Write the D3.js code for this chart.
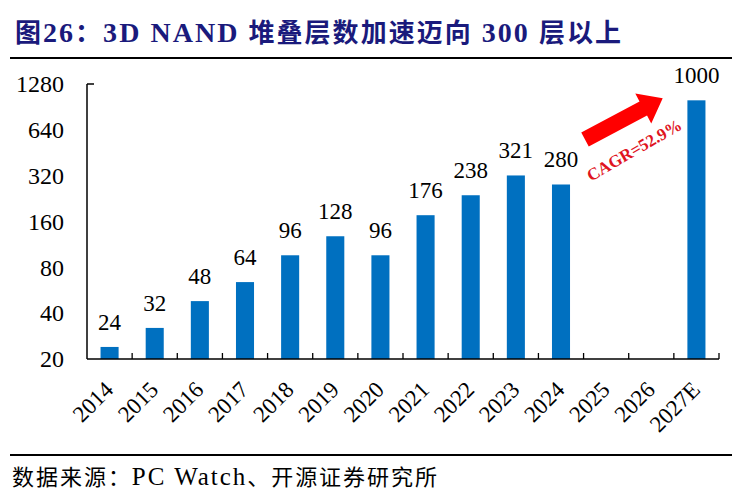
<!DOCTYPE html>
<html>
<head>
<meta charset="utf-8">
<script src="https://cdn.jsdelivr.net/npm/d3@7"></script>
<style>
  html, body { margin: 0; padding: 0; background: #fff; }
  svg { display: block; }
</style>
</head>
<body>
<svg id="chart" width="756" height="501"></svg>
<script>
const categories = ["2014","2015","2016","2017","2018","2019","2020","2021","2022","2023","2024","2025","2026","2027E"];
const layers = [24, 32, 48, 64, 96, 128, 96, 176, 238, 321, 280, null, null, 1000];
const yTickValues = [20, 40, 80, 160, 320, 640, 1280];
const titleParts = ["图", "26", "：", "3D NAND ", "堆叠层数加速迈向", " 300 ", "层以上"];
const sourceParts = ["数据来源：", "PC Watch", "、开源证券研究所"];
const cagrText = "CAGR=52.9%";

(function () {
const serif = "'Liberation Serif','Times New Roman',serif";
const cjk = "'Noto Sans CJK SC','Liberation Serif',sans-serif";
const isLatin = s => /^[\x00-\x7F]+$/.test(s);
const svg = d3.select("#chart");

const pLeft = 87, pRight = 719, pTop = 84, pBottom = 359;

const x = d3.scaleBand().domain(categories).range([pLeft, pRight]).paddingInner(0.6).paddingOuter(0.3);
const y = d3.scaleLog().base(2).domain([20, 1280]).range([pBottom, pTop]);
const step = x.step();

// Title
const title = svg.append("text")
  .attr("x", 15).attr("y", 42)
  .attr("textLength", 606).attr("lengthAdjust", "spacing")
  .style("font-weight", "bold")
  .style("fill", "#1a1a7c");
title.selectAll("tspan").data(titleParts).join("tspan")
  .style("font-family", d => isLatin(d) ? serif : cjk)
  .style("font-size", d => isLatin(d) ? "28px" : "26px")
  .style("white-space", "pre")
  .text(d => d);
svg.append("line").attr("x1", 10).attr("x2", 732).attr("y1", 58).attr("y2", 58)
  .attr("stroke", "#000").attr("stroke-width", 2.2);

// Bars
const data = categories.map((c, i) => ({c, v: layers[i]})).filter(d => d.v != null);
svg.append("g").selectAll("rect").data(data).join("rect")
  .attr("x", d => x(d.c)).attr("width", x.bandwidth())
  .attr("y", d => y(d.v)).attr("height", d => pBottom - y(d.v))
  .attr("fill", "#0070C0");

// Value labels
svg.append("g").selectAll("text").data(data).join("text")
  .attr("x", d => x(d.c) + x.bandwidth() / 2)
  .attr("y", d => y(d.v) - 17)
  .attr("text-anchor", "middle")
  .style("font-family", serif).style("font-size", "23px").style("fill", "#000")
  .text(d => d.v);

// Y axis
const yAxis = svg.append("g").attr("transform", `translate(${pLeft},0)`)
  .call(d3.axisLeft(y).tickValues(yTickValues).tickFormat(d3.format("d")).tickSize(0).tickPadding(23));
yAxis.select(".domain").remove();
yAxis.selectAll("text").style("font-family", serif).style("font-size", "24px").style("fill", "#000");
svg.append("line").attr("x1", pLeft).attr("x2", pLeft).attr("y1", pTop).attr("y2", pBottom)
  .attr("stroke", "#000").attr("stroke-width", 1.5);
svg.append("line").attr("x1", pLeft).attr("x2", pLeft + 7).attr("y1", y(1280)).attr("y2", y(1280))
  .attr("stroke", "#000").attr("stroke-width", 1.5);

// X axis
svg.append("line").attr("x1", pLeft).attr("x2", pRight).attr("y1", pBottom).attr("y2", pBottom)
  .attr("stroke", "#000").attr("stroke-width", 1.5);
const boundaries = categories.map(c => x(c) - step * 0.3 + step);
svg.append("g").selectAll("line").data(boundaries).join("line")
  .attr("x1", d => d).attr("x2", d => d).attr("y1", pBottom).attr("y2", pBottom - 6)
  .attr("stroke", "#000").attr("stroke-width", 1.3);

svg.append("g").selectAll("text").data(categories).join("text")
  .attr("transform", c => `translate(${x(c) + x.bandwidth() / 2 + 5},391) rotate(-45)`)
  .attr("text-anchor", "end")
  .style("font-family", serif).style("font-size", "23px").style("fill", "#000")
  .text(c => c);

// Arrow annotation
const ax0 = 585, ay0 = 139.5, ang = -28;
const bodyLen = 66, headLen = 22, bw = 8, hw = 17;
svg.append("path")
  .attr("transform", `translate(${ax0},${ay0}) rotate(${ang})`)
  .attr("d", `M0,${-bw} L${bodyLen},${-bw} L${bodyLen},${-hw} L${bodyLen + headLen},0 L${bodyLen},${hw} L${bodyLen},${bw} L0,${bw} Z`)
  .attr("fill", "#FF0000");
svg.append("text")
  .attr("transform", "translate(637,155) rotate(-30)")
  .attr("text-anchor", "middle")
  .style("font-family", serif).style("font-weight", "bold").style("font-size", "17px")
  .style("fill", "#E0141E")
  .text(cagrText);

// Source
svg.append("line").attr("x1", 10).attr("x2", 732).attr("y1", 455).attr("y2", 455)
  .attr("stroke", "#000").attr("stroke-width", 2.2);
const src = svg.append("text")
  .attr("x", 12).attr("y", 485)
  .attr("textLength", 425).attr("lengthAdjust", "spacing")
  .style("fill", "#000");
src.selectAll("tspan").data(sourceParts).join("tspan")
  .style("font-family", d => isLatin(d) ? serif : cjk)
  .style("font-size", d => isLatin(d) ? "25px" : "22px")
  .text(d => d);
})();
</script>
</body>
</html>
